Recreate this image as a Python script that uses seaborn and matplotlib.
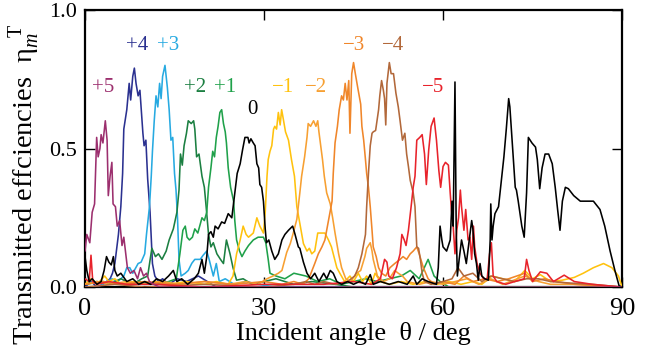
"""Transmitted diffraction efficiencies vs incident angle, orders +5 ... -5."""

import matplotlib

matplotlib.use("Agg")
import matplotlib.pyplot as plt
import numpy as np
import pandas as pd
import seaborn as sns

# (angle in deg, efficiency), one list per order
order_p5 = [(0, 0.13), (0.3, 0.19), (0.8, 0.16), (1.2, 0.27), (1.6, 0.30), (1.95, 0.54), (2.2, 0.47),
            (2.5, 0.50), (2.7, 0.55), (3.0, 0.52), (3.4, 0.60), (3.7, 0.53), (3.9, 0.33), (4.2, 0.40),
            (4.5, 0.45), (4.7, 0.30), (5.1, 0.29), (5.4, 0.22), (5.8, 0.24), (6.2, 0.15), (6.5, 0.18),
            (7.1, 0.07), (7.6, 0.05), (8.2, 0.06), (8.8, 0.03), (9.3, 0.07), (9.8, 0.04), (10.3, 0.05),
            (10.8, 0.02), (11.5, 0.01), (12.5, 0.0), (90, 0.0)]

order_p4 = [(0, 0.0), (1, 0.02), (2, 0.0), (3, 0.01), (3.6, 0.02), (4.2, 0.03), (4.6, 0.05), (5.0, 0.085),
            (5.6, 0.19), (6.0, 0.29), (6.3, 0.41), (6.5, 0.57), (7.0, 0.64), (7.4, 0.735), (7.65, 0.675),
            (8.0, 0.76), (8.27, 0.79), (8.55, 0.735), (8.9, 0.69), (9.2, 0.71), (9.7, 0.555), (9.9, 0.51),
            (10.2, 0.53), (10.5, 0.39), (10.9, 0.27), (11.3, 0.085), (11.7, 0.04), (12.3, 0.02), (13.0, 0.03),
            (14.0, 0.01), (15.5, 0.03), (17.0, 0.02), (19.0, 0.04), (20.5, 0.02), (22, 0.0), (90, 0.0)]

order_p3 = [(0, 0.01), (1.5, 0.02), (3, 0.01), (4.5, 0.03), (5.5, 0.02), (6.5, 0.04), (7.0, 0.07),
            (7.5, 0.07), (8.0, 0.05), (8.9, 0.085), (9.4, 0.09), (10.0, 0.12), (10.3, 0.19), (10.8, 0.29),
            (11.1, 0.40), (11.3, 0.49), (11.6, 0.60), (11.9, 0.69), (12.2, 0.65), (12.5, 0.735),
            (12.75, 0.68), (13.0, 0.76), (13.4, 0.80), (13.8, 0.72), (14.1, 0.64), (14.4, 0.53),
            (14.7, 0.54), (15.0, 0.41), (15.25, 0.35), (15.5, 0.25), (15.75, 0.10), (16.1, 0.04),
            (16.8, 0.05), (17.3, 0.06), (17.9, 0.086), (18.4, 0.10), (19.3, 0.10), (19.8, 0.115),
            (20.4, 0.13), (20.8, 0.10), (21.5, 0.04), (22.0, 0.085), (22.5, 0.02), (23.5, 0.03),
            (25, 0.01), (27, 0.02), (29, 0.01), (32, 0.0), (90, 0.0)]

order_p2 = [(0, 0.01), (2, 0.02), (4, 0.01), (6, 0.03), (8, 0.01), (9.5, 0.03), (10.5, 0.04), (11.2, 0.14),
            (11.8, 0.11), (12.3, 0.12), (12.9, 0.10), (13.6, 0.13), (14.1, 0.17), (14.8, 0.21), (15.4, 0.27),
            (15.75, 0.35), (16.0, 0.48), (16.3, 0.44), (16.6, 0.51), (17.0, 0.555), (17.3, 0.60),
            (17.8, 0.59), (18.2, 0.60), (18.4, 0.57), (18.7, 0.47), (19.1, 0.48), (19.6, 0.40), (20.0, 0.36),
            (20.3, 0.29), (20.7, 0.19), (21.1, 0.145), (21.5, 0.16), (22.1, 0.12), (22.7, 0.10),
            (23.2, 0.085), (23.7, 0.17), (24.3, 0.12), (24.8, 0.07), (25.4, 0.025), (26.5, 0.03),
            (28, 0.01), (30, 0.02), (32, 0.03), (35, 0.01), (38, 0.02), (42, 0.01), (45, 0.0), (90, 0.0)]

order_p1 = [(0, 0.01), (3, 0.02), (6, 0.01), (9, 0.02), (12, 0.01), (14, 0.02), (15.3, 0.03), (15.9, 0.12),
            (16.4, 0.205), (16.8, 0.22), (17.1, 0.18), (17.5, 0.17), (18.0, 0.18), (18.4, 0.21),
            (18.9, 0.195), (19.6, 0.25), (20.0, 0.24), (20.4, 0.27), (20.7, 0.36), (21.1, 0.43),
            (21.4, 0.49), (21.7, 0.47), (22.0, 0.54), (22.3, 0.58), (22.6, 0.63), (22.9, 0.64),
            (23.2, 0.59), (23.5, 0.56), (23.7, 0.52), (24.0, 0.43), (24.4, 0.36), (24.9, 0.31),
            (25.1, 0.24), (25.4, 0.17), (25.9, 0.13), (26.3, 0.11), (26.8, 0.13), (27.4, 0.15),
            (28.2, 0.17), (29.0, 0.18), (29.9, 0.18), (30.3, 0.16), (30.7, 0.10), (31.0, 0.05),
            (32, 0.04), (33.5, 0.03), (35, 0.05), (37, 0.04), (39, 0.02), (41, 0.03), (43, 0.01),
            (45, 0.02), (47, 0.03), (49, 0.02), (51, 0.03), (53, 0.04), (54.5, 0.06), (56, 0.03),
            (57.5, 0.10), (58.5, 0.04), (59.5, 0.02), (61, 0.0), (90, 0.0)]

order_0 = [(0, 0.11), (0.3, 0.06), (0.7, 0.02), (1.2, 0.03), (2, 0.01), (2.7, 0.02), (3.2, 0.06),
           (3.6, 0.11), (4.0, 0.09), (4.4, 0.08), (4.75, 0.11), (5.0, 0.06), (5.4, 0.04), (6.0, 0.05),
           (7.0, 0.02), (8.0, 0.03), (9.0, 0.01), (10.0, 0.02), (11.0, 0.01), (12.0, 0.03), (13.0, 0.02),
           (14.0, 0.04), (14.8, 0.06), (15.4, 0.02), (16.2, 0.03), (17.2, 0.01), (18.3, 0.03), (19.0, 0.05),
           (19.6, 0.10), (20.0, 0.05), (20.4, 0.11), (20.7, 0.19), (21.1, 0.20), (21.5, 0.18), (21.8, 0.22),
           (22.3, 0.21), (22.9, 0.235), (23.4, 0.23), (24.0, 0.265), (24.6, 0.25), (25.1, 0.34),
           (25.5, 0.41), (26.0, 0.445), (26.4, 0.495), (26.8, 0.54), (27.3, 0.54), (27.5, 0.52),
           (27.8, 0.535), (28.2, 0.52), (28.5, 0.51), (28.8, 0.445), (29.1, 0.43), (29.3, 0.37),
           (29.6, 0.36), (29.9, 0.31), (30.2, 0.21), (30.4, 0.16), (30.8, 0.17), (31.3, 0.13),
           (31.8, 0.10), (32.4, 0.12), (33.0, 0.17), (33.5, 0.19), (34.1, 0.205), (34.8, 0.22),
           (35.2, 0.19), (35.75, 0.145), (36.0, 0.14), (36.6, 0.09), (37.2, 0.05), (37.8, 0.03),
           (38.5, 0.05), (39.2, 0.02), (40.0, 0.05), (40.5, 0.03), (41.1, 0.06), (41.6, 0.05),
           (42.2, 0.02), (43, 0.01), (44, 0.02), (45, 0.01), (46, 0.02), (47, 0.01), (47.8, 0.045),
           (48.3, 0.01), (49.5, 0.02), (51, 0.01), (52.5, 0.02), (54, 0.01), (55.0, 0.04), (55.6, 0.01),
           (56.5, 0.03), (57.5, 0.02), (58.9, 0.01), (59.2, 0.07), (59.5, 0.22), (59.8, 0.17),
           (60.0, 0.145), (60.6, 0.13), (61.2, 0.17), (61.5, 0.31), (61.7, 0.22), (62.0, 0.74),
           (62.2, 0.22), (62.4, 0.04), (62.7, 0.10), (63.1, 0.17), (63.5, 0.13), (63.9, 0.085),
           (64.5, 0.19), (64.8, 0.24), (65.0, 0.21), (65.3, 0.12), (65.6, 0.085), (65.9, 0.025),
           (66.2, 0.085), (66.5, 0.04), (67.0, 0.03), (67.6, 0.025), (67.9, 0.17), (68.0, 0.30),
           (68.2, 0.17), (68.4, 0.22), (68.7, 0.265), (69.3, 0.29), (69.8, 0.39), (70.2, 0.47),
           (70.6, 0.57), (71.0, 0.68), (71.2, 0.65), (71.5, 0.555), (72.1, 0.36), (72.3, 0.35),
           (72.6, 0.31), (73.2, 0.22), (73.6, 0.18), (74.0, 0.34), (74.3, 0.54), (74.9, 0.52),
           (75.5, 0.505), (75.8, 0.46), (76.2, 0.355), (76.6, 0.43), (77.1, 0.48), (77.7, 0.48),
           (78.3, 0.445), (78.8, 0.36), (79.2, 0.28), (79.6, 0.205), (80.0, 0.31), (80.5, 0.36),
           (81.0, 0.355), (81.9, 0.33), (83.0, 0.31), (84.1, 0.31), (85.2, 0.31), (86.3, 0.28),
           (87.1, 0.22), (88.0, 0.13), (88.8, 0.06), (89.5, 0.005), (90, 0.0)]

order_m1 = [(0, 0.01), (1, 0.03), (2, 0.01), (3.3, 0.04), (4, 0.02), (5, 0.03), (6, 0.01), (8, 0.02),
            (10, 0.01), (12, 0.02), (14, 0.01), (17, 0.02), (20, 0.01), (22, 0.02), (24, 0.01),
            (24.8, 0.04), (25.4, 0.12), (26.0, 0.17), (26.5, 0.22), (27.0, 0.19), (27.4, 0.18),
            (28.2, 0.195), (28.8, 0.25), (29.3, 0.22), (29.9, 0.195), (30.2, 0.27), (30.5, 0.40),
            (30.7, 0.46), (31.0, 0.49), (31.3, 0.51), (31.6, 0.57), (31.8, 0.58), (32.1, 0.57),
            (32.4, 0.63), (32.7, 0.585), (32.95, 0.64), (33.2, 0.61), (33.6, 0.56), (34.1, 0.53),
            (34.6, 0.46), (35.1, 0.40), (35.5, 0.29), (36.0, 0.23), (36.6, 0.157), (37.2, 0.13),
            (37.6, 0.14), (38.0, 0.12), (38.5, 0.13), (39.0, 0.195), (39.5, 0.195), (40.2, 0.195),
            (40.8, 0.17), (41.3, 0.145), (41.6, 0.12), (42.2, 0.07), (42.7, 0.05), (43.5, 0.02),
            (44.4, 0.04), (45.0, 0.02), (45.8, 0.05), (46.5, 0.02), (47.2, 0.04), (48.0, 0.01),
            (48.6, 0.05), (49.5, 0.02), (51, 0.01), (53, 0.02), (55, 0.01), (57, 0.02), (59, 0.01),
            (61, 0.02), (63, 0.01), (65, 0.02), (66.5, 0.01), (68.2, 0.04), (70, 0.03), (72, 0.02),
            (73.7, 0.06), (75, 0.03), (76.3, 0.045), (78, 0.02), (80, 0.025), (82, 0.035), (83.5, 0.05),
            (85.2, 0.07), (86.9, 0.085), (88.3, 0.07), (89.4, 0.04), (90, 0.0)]

order_m2 = [(0, 0.01), (2, 0.02), (4, 0.01), (7, 0.02), (10, 0.01), (13, 0.02), (16, 0.01), (20, 0.02),
            (24, 0.01), (27, 0.02), (29, 0.01), (30.5, 0.03), (31.5, 0.04), (32.4, 0.05), (33.0, 0.06),
            (33.8, 0.125), (34.4, 0.157), (34.9, 0.195), (35.5, 0.245), (36.0, 0.34), (36.3, 0.40),
            (36.8, 0.47), (37.2, 0.54), (37.4, 0.59), (37.8, 0.58), (38.3, 0.60), (38.7, 0.58),
            (39.0, 0.60), (39.2, 0.56), (39.5, 0.51), (39.8, 0.46), (40.1, 0.40), (40.5, 0.34),
            (41.1, 0.30), (41.5, 0.25), (41.9, 0.195), (42.5, 0.12), (43.0, 0.07), (43.7, 0.03),
            (44.5, 0.02), (45.5, 0.05), (46.2, 0.06), (46.9, 0.11), (47.2, 0.14), (47.8, 0.16),
            (48.1, 0.13), (48.3, 0.10), (49.0, 0.04), (50.0, 0.02), (51.0, 0.03), (51.9, 0.06),
            (52.5, 0.05), (53.2, 0.04), (54, 0.02), (56, 0.01), (58, 0.02), (60, 0.01), (62, 0.02),
            (64, 0.03), (66, 0.01), (68, 0.03), (70, 0.01), (73.7, 0.04), (76, 0.02), (78, 0.01),
            (82, 0.01), (90, 0.0)]

order_m3 = [(0, 0.01), (3, 0.02), (6, 0.01), (10, 0.02), (15, 0.01), (20, 0.02), (25, 0.01), (30, 0.02),
            (33, 0.01), (35, 0.02), (36.5, 0.01), (37.5, 0.03), (38.5, 0.085), (39.1, 0.12),
            (39.7, 0.145), (40.2, 0.17), (40.8, 0.24), (41.4, 0.31), (41.6, 0.41), (41.9, 0.52),
            (42.3, 0.58), (42.6, 0.64), (43.0, 0.69), (43.3, 0.675), (43.6, 0.735), (43.9, 0.675),
            (44.2, 0.745), (44.4, 0.555), (44.7, 0.77), (45.0, 0.81), (45.3, 0.77), (45.7, 0.72),
            (46.2, 0.66), (46.4, 0.58), (46.7, 0.53), (47.0, 0.46), (47.2, 0.41), (47.5, 0.36),
            (47.8, 0.29), (48.1, 0.205), (48.3, 0.145), (48.8, 0.11), (49.2, 0.07), (49.7, 0.05),
            (50.4, 0.04), (51.1, 0.07), (51.9, 0.085), (52.8, 0.10), (53.3, 0.11), (53.9, 0.10),
            (54.5, 0.12), (55.0, 0.13), (55.6, 0.145), (56.0, 0.12), (56.7, 0.07), (57.5, 0.03),
            (58.5, 0.01), (60, 0.02), (62, 0.01), (63.5, 0.04), (65, 0.02), (67, 0.03), (69, 0.02),
            (71, 0.03), (73.7, 0.05), (75, 0.02), (77, 0.03), (79, 0.02), (82, 0.01), (90, 0.0)]

order_m4 = [(0, 0.0), (5, 0.01), (10, 0.0), (20, 0.01), (30, 0.0), (35, 0.01), (37, 0.02), (38.5, 0.01),
            (40, 0.02), (42, 0.01), (44, 0.02), (45.2, 0.04), (45.8, 0.07), (46.4, 0.12), (47.0, 0.19),
            (47.2, 0.29), (47.5, 0.41), (47.8, 0.51), (48.1, 0.555), (48.3, 0.56), (48.7, 0.565),
            (49.2, 0.64), (49.4, 0.69), (49.7, 0.745), (50.0, 0.71), (50.2, 0.68), (50.4, 0.585),
            (50.6, 0.735), (51.0, 0.81), (51.3, 0.77), (51.7, 0.77), (52.1, 0.70), (52.5, 0.65),
            (52.8, 0.60), (53.2, 0.53), (53.6, 0.555), (53.9, 0.48), (54.2, 0.435), (54.5, 0.385),
            (55.0, 0.34), (55.3, 0.29), (55.6, 0.145), (55.9, 0.14), (56.2, 0.10), (56.5, 0.05),
            (56.9, 0.02), (58, 0.01), (60, 0.02), (61.5, 0.03), (62.5, 0.07), (63.5, 0.04), (65, 0.05),
            (66.5, 0.02), (68, 0.04), (70, 0.03), (72, 0.02), (74, 0.03), (76, 0.03), (78, 0.02),
            (81, 0.015), (85, 0.01), (90, 0.0)]

order_m5 = [(0, 0.03), (0.7, 0.02), (1.0, 0.115), (1.3, 0.02), (2, 0.01), (4, 0.02), (7, 0.01), (12, 0.01),
            (20, 0.0), (30, 0.01), (40, 0.01), (45, 0.02), (48, 0.01), (49.5, 0.03), (50.2, 0.10),
            (50.6, 0.09), (50.9, 0.04), (51.5, 0.03), (52.2, 0.07), (52.8, 0.12), (53.1, 0.19),
            (53.5, 0.17), (53.8, 0.15), (54.2, 0.205), (54.7, 0.30), (55.0, 0.36), (55.3, 0.40),
            (55.6, 0.53), (56.1, 0.54), (56.5, 0.55), (56.9, 0.48), (57.2, 0.37), (57.6, 0.495),
            (58.0, 0.58), (58.5, 0.61), (58.9, 0.53), (59.3, 0.42), (59.6, 0.36), (60.0, 0.435),
            (60.4, 0.45), (60.9, 0.44), (61.2, 0.34), (61.4, 0.28), (61.7, 0.22), (62.0, 0.12),
            (62.3, 0.205), (62.6, 0.25), (62.9, 0.35), (63.1, 0.29), (63.5, 0.205), (63.8, 0.28),
            (64.2, 0.17), (64.5, 0.18), (64.8, 0.10), (65.1, 0.22), (65.3, 0.145), (65.7, 0.085),
            (66.2, 0.05), (66.8, 0.03), (67.4, 0.03), (67.8, 0.12), (68.1, 0.16), (68.4, 0.04),
            (69, 0.02), (70.5, 0.01), (72, 0.02), (73.6, 0.03), (74.0, 0.10), (74.4, 0.06), (75, 0.02),
            (76.3, 0.055), (77.4, 0.05), (78.5, 0.02), (80.3, 0.043), (82, 0.02), (85, 0.01), (90, 0.0)]

# drawing order (last one on top) and the matching curve lists
order_names = ["+4", "+3", "+2", "+1", "−1", "−2", "−3", "−4", "−5", "0", "+5"]
order_curves = [order_p4, order_p3, order_p2, order_p1, order_m1, order_m2, order_m3, order_m4,
                order_m5, order_0, order_p5]

# label text and where it sits (deg, efficiency)
label_names = ["+5", "+4", "+3", "+2", "+1", "0", "−1", "−2", "−3", "−4", "−5"]
label_x = [3.0, 8.7, 13.9, 18.4, 23.5, 28.0, 33.2, 38.7, 45.1, 51.6, 58.3]
label_y = [0.72, 0.87, 0.87, 0.72, 0.72, 0.64, 0.72, 0.72, 0.87, 0.87, 0.72]

colors = {
    "+5": "#9c2f6e",
    "+4": "#2b3190",
    "+3": "#27aae1",
    "+2": "#1b7f41",
    "+1": "#1fa14a",
    "0": "#000000",
    "−1": "#ffc20e",
    "−2": "#f7a032",
    "−3": "#f0862a",
    "−4": "#b2683a",
    "−5": "#e8232b",
}

frames = []
for name, pts in zip(order_names, order_curves):
    arr = np.array(pts)
    frames.append(pd.DataFrame({"angle": arr[:, 0], "eff": arr[:, 1], "order": name}))
df = pd.concat(frames, ignore_index=True)

sns.set_theme(style="ticks")
plt.rcParams["font.family"] = ["Liberation Serif", "DejaVu Serif"]
plt.rcParams["mathtext.fontset"] = "custom"
plt.rcParams["mathtext.rm"] = "Liberation Serif"
plt.rcParams["mathtext.it"] = "Liberation Serif:italic"
plt.rcParams["text.color"] = "black"
plt.rcParams["axes.labelcolor"] = "black"

fig = plt.figure(figsize=(6.5, 3.54), dpi=100)
ax = fig.add_axes([0.1308, 0.189, 0.8262, 0.783])

sns.lineplot(data=df, x="angle", y="eff", hue="order", hue_order=order_names, palette=colors,
             estimator=None, sort=False, linewidth=1.15, legend=False, ax=ax, zorder=3)

for name, lx, ly in zip(label_names, label_x, label_y):
    ax.text(lx, ly, name, color=colors[name], fontsize=15, ha="center", va="center")

ax.set_xlim(0, 90)
ax.set_ylim(0, 1.0)
ax.set_xticks([0, 30, 60, 90])
ax.set_yticks([0.0, 0.5, 1.0])
ax.set_yticklabels(["0.0", "0.5", "1.0"])
ax.tick_params(direction="in", length=7, width=1.0, top=True, right=True,
               colors="black", labelcolor="black")
ax.tick_params(axis="x", labelsize=19, pad=8)
ax.tick_params(axis="y", labelsize=16, pad=6)
for sp in ax.spines.values():
    sp.set_linewidth(1.6)
    sp.set_color("black")

ax.set_xlabel("Incident angle  θ / deg", fontsize=19, labelpad=1)
ax.set_ylabel(r"Transmitted effciencies  η$_{m}^{\ \ \mathrm{T}}$", fontsize=20.5)
ax.yaxis.set_label_coords(-0.08, 0.37)

fig.savefig("out.png", dpi=100)
